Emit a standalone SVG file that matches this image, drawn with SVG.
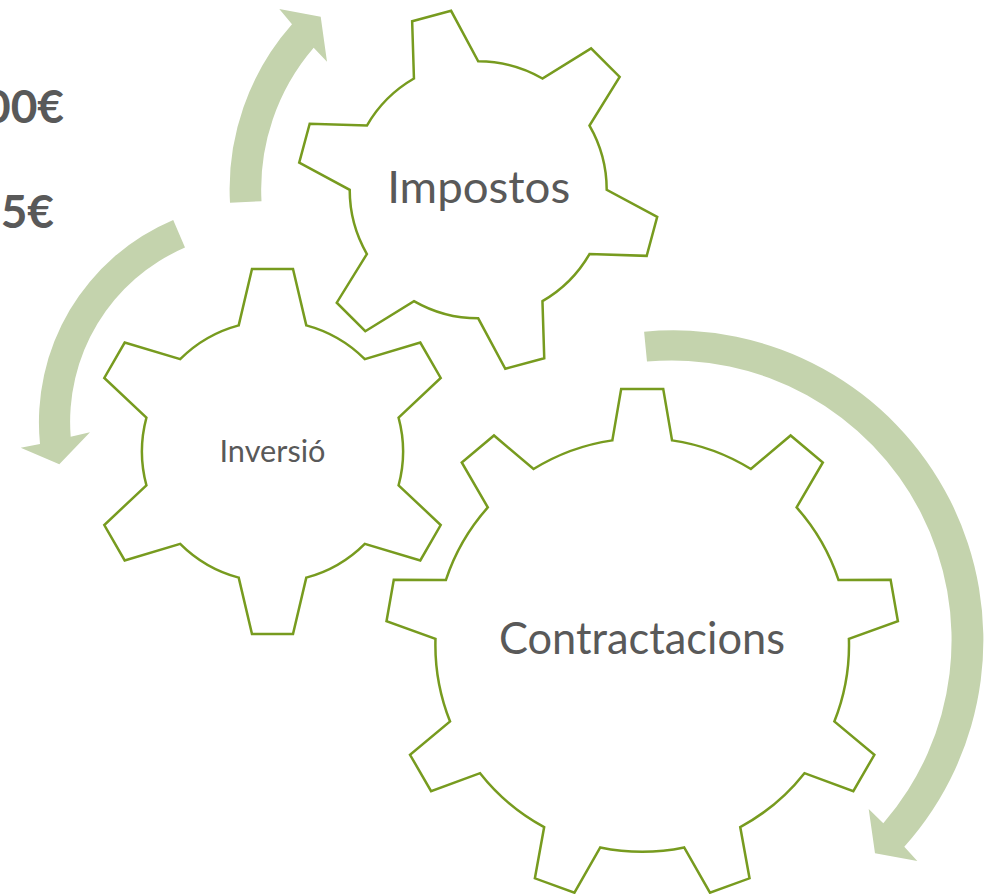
<svg xmlns="http://www.w3.org/2000/svg" width="1002" height="894" viewBox="0 0 1002 894">
<style>
.gear{fill:#ffffff;stroke:#779B1F;stroke-width:2.5;stroke-linejoin:miter}
.arrow{fill:#C4D3AD;stroke:none}
.lbl{font-family:Lato,"Open Sans","Liberation Sans",sans-serif;fill:#595959;text-anchor:middle}
.amt{font-family:Lato,"Open Sans","Liberation Sans",sans-serif;fill:#595959;font-weight:bold;font-size:46px;text-anchor:end}
</style>
<rect width="1002" height="894" fill="#ffffff"/>
<g id="amounts">
<text class="amt" x="64" y="123">00€</text>
<text class="amt" x="54" y="228">5€</text>
</g>
<g id="connectors">
<path class="arrow" d="M230,202.8 A248.5,248.5 0 0 1 292,24.3 L279.3,9 L320.7,16.7 L327,61.7 L313.7,47.7 A217,217 0 0 0 261.5,201.2 Z"/>
<path class="arrow" d="M173.2,220 A219.5,219.5 0 0 0 40,444 L20.7,447.7 L59.3,464.3 L90,432.3 L70.7,436.7 A189.5,189.5 0 0 1 185,247.6 Z"/>
<path class="arrow" d="M644.1,331.7 A309.7,309.7 0 0 1 904.3,846.7 L917.3,861 L875,853.3 L868.7,809 L883.3,823.3 A279.7,279.7 0 0 0 647,361.6 Z"/>
</g>
<g id="gear-inversio">
<path class="gear" d="M238.7,325.4 L252,269 L293,269 L306.3,325.4 A130.5,130.5 0 0 1 364.8,359.2 L420.3,342.6 L440.7,378 L398.6,417.7 A130.5,130.5 0 0 1 398.6,485.3 L440.7,525 L420.3,560.4 L364.8,543.8 A130.5,130.5 0 0 1 306.3,577.6 L293,634 L252,634 L238.7,577.6 A130.5,130.5 0 0 1 180.2,543.8 L124.7,560.4 L104.3,525 L146.4,485.3 A130.5,130.5 0 0 1 146.4,417.7 L104.3,378 L124.7,342.6 L180.2,359.2 A130.5,130.5 0 0 1 238.7,325.4 Z"/>
<text class="lbl" x="272.5" y="461.7" font-size="30" textLength="106" lengthAdjust="spacingAndGlyphs">Inversió</text>
</g>
<g id="gear-impostos">
<path class="gear" d="M413.95,78.5 L412.15,21.27 L451.1,10.8 L478.2,61.3 A128.5,128.5 0 0 1 542.45,78.5 L591.1,48.35 L619.65,76.9 L589.5,125.55 A128.5,128.5 0 0 1 606.7,189.8 L657.2,216.9 L646.7,255.85 L589.5,254.05 A128.5,128.5 0 0 1 542.45,301.1 L544.25,358.3 L505.3,368.8 L478.2,318.3 A128.5,128.5 0 0 1 413.95,301.1 L365.3,331.25 L336.75,302.7 L366.9,254.05 A128.5,128.5 0 0 1 349.7,189.8 L299.2,162.7 L309.7,123.75 L366.9,125.55 A128.5,128.5 0 0 1 413.95,78.5 Z"/>
<text class="lbl" x="478.7" y="203.3" font-size="44" textLength="183" lengthAdjust="spacingAndGlyphs">Impostos</text>
</g>
<g id="gear-contractacions">
<path class="gear" d="M612.34,440.37 L621.17,389.07 L663.23,389.07 L672.06,440.37 A206.8,206.8 0 0 1 750.87,469.05 L790.61,435.43 L822.83,462.47 L796.6,507.44 A206.8,206.8 0 0 1 838.54,580.06 L890.6,579.82 L897.9,621.27 L848.92,638.86 A206.8,206.8 0 0 1 834.34,721.45 L874.37,754.76 L853.31,791.2 L804.46,773.17 A206.8,206.8 0 0 1 740.24,827.09 L749.52,878.3 L709.97,892.71 L684.14,847.5 A206.8,206.8 0 0 1 600.26,847.5 L574.43,892.71 L534.88,878.3 L544.16,827.09 A206.8,206.8 0 0 1 480.06,773.17 L431.09,791.2 L410.03,754.76 L450.06,721.45 A206.8,206.8 0 0 1 435.48,638.86 L386.5,621.27 L393.8,579.82 L445.86,580.06 A206.8,206.8 0 0 1 487.8,507.44 L461.77,462.47 L493.99,435.43 L533.53,469.05 A206.8,206.8 0 0 1 612.34,440.37 Z"/>
<text class="lbl" x="642" y="654.3" font-size="44" textLength="286" lengthAdjust="spacingAndGlyphs">Contractacions</text>
</g>
</svg>
